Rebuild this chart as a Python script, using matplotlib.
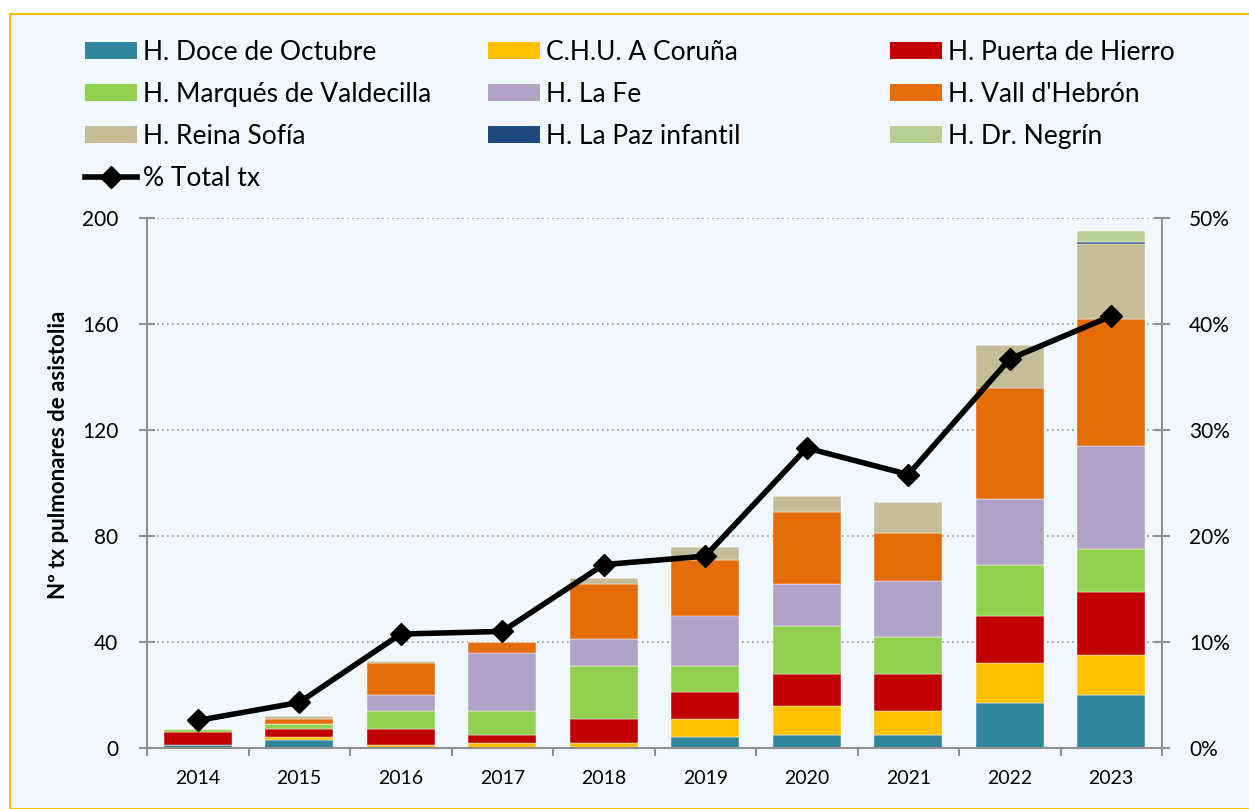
import numpy as np
import matplotlib
matplotlib.use("Agg")
import matplotlib.pyplot as plt
from matplotlib.patches import Rectangle, Patch
from matplotlib.lines import Line2D
from matplotlib.ticker import FuncFormatter

plt.rcParams['font.family'] = ['Lato', 'DejaVu Sans']

years = ['2014', '2015', '2016', '2017', '2018', '2019', '2020', '2021', '2022', '2023']

doce_octubre = [1, 3, 0, 0, 0, 4, 5, 5, 17, 20]
chu_coruna   = [0, 1, 1, 2, 2, 7, 11, 9, 15, 15]
puerta_hierro = [5, 3, 6, 3, 9, 10, 12, 14, 18, 24]
valdecilla   = [1, 2, 7, 9, 20, 10, 18, 14, 19, 16]
la_fe        = [0, 0, 6, 22, 10, 19, 16, 21, 25, 39]
vall_hebron  = [0, 2, 12, 4, 21, 21, 27, 18, 42, 48]
reina_sofia  = [0, 1, 1, 0, 2, 5, 6, 12, 16, 28]
la_paz_inf   = [0, 0, 0, 0, 0, 0, 0, 0, 0, 1]
dr_negrin    = [0, 0, 0, 0, 0, 0, 0, 0, 0, 4]

pct_total = [2.6, 4.3, 10.75, 11.0, 17.3, 18.1, 28.3, 25.8, 36.7, 40.75]

series = [
    ('H. Doce de Octubre', doce_octubre, '#31859C'),
    ('C.H.U. A Coruña', chu_coruna, '#FFC000'),
    ('H. Puerta de Hierro', puerta_hierro, '#C00000'),
    ('H. Marqués de Valdecilla', valdecilla, '#92D050'),
    ('H. La Fe', la_fe, '#B2A2C7'),
    ("H. Vall d'Hebrón", vall_hebron, '#E46C0A'),
    ('H. Reina Sofía', reina_sofia, '#C4BD97'),
    ('H. La Paz infantil', la_paz_inf, '#1F497D'),
    ('H. Dr. Negrín', dr_negrin, '#B9CF96'),
]

bg = '#F0F8FE'
W, H = 1249, 809
fig = plt.figure(figsize=(W / 100, H / 100), dpi=100, facecolor='white')
fig.patches.append(Rectangle((10 / W, 0), 1.0, (H - 14) / H, transform=fig.transFigure,
                             facecolor=bg, edgecolor='#FFC000', linewidth=1.5, zorder=-10))

ax = fig.add_axes([147 / W, 61 / H, 1015 / W, 530 / H])
ax.set_facecolor('none')
x = np.arange(len(years))
bottom = np.zeros(len(years))
handles = {}
for name, vals, col in series:
    v = np.array(vals, dtype=float)
    ax.bar(x, v, 0.67, bottom=bottom, color=col, edgecolor='white', linewidth=0.3, zorder=2)
    bottom += v
    handles[name] = Patch(facecolor=col, edgecolor='none')

ax.set_xlim(-0.5, len(years) - 0.5)
ax.set_ylim(0, 200)
ax.set_yticks(np.arange(0, 201, 40))
ax.yaxis.grid(True, linestyle=(0, (1, 2)), color='#999999', linewidth=1.2, zorder=0)
ax.set_xticks(x)
ax.set_xticklabels(years, fontsize=14)
ax.set_xticks(np.arange(-0.5, len(years), 1), minor=True)
ax.tick_params(axis='x', which='major', length=0, pad=16)
ax.tick_params(axis='x', which='minor', length=6, color='#909090', width=1.5, direction='out')
ax.tick_params(axis='y', labelsize=15, length=11, direction='inout', color='#909090', width=1.5, pad=15)
for s in ['top', 'right']:
    ax.spines[s].set_visible(False)
for s in ['left', 'bottom']:
    ax.spines[s].set_color('#909090')
    ax.spines[s].set_linewidth(1.5)
ax.set_ylabel('Nº tx pulmonares de asistolia', fontsize=16, fontweight='bold')
ax.yaxis.set_label_coords(-0.077, 0.553)

ax2 = ax.twinx()
ax2.set_ylim(0, 50)
ax2.set_yticks(np.arange(0, 51, 10))
ax2.yaxis.set_major_formatter(FuncFormatter(lambda v, p: f'{int(v)}%'))
ax2.tick_params(axis='y', labelsize=15, length=11, direction='inout', color='#909090', width=1.5, pad=14)
for s in ['top', 'left', 'bottom']:
    ax2.spines[s].set_visible(False)
ax2.spines['right'].set_color('#909090')
ax2.spines['right'].set_linewidth(1.5)
ax2.plot(x, pct_total, color='black', linewidth=4, marker='D', markersize=11, zorder=5)

# legend: three fixed-width columns like the original
columns = [
    (85, ['H. Doce de Octubre', 'H. Marqués de Valdecilla', 'H. Reina Sofía', None]),
    (488, ['C.H.U. A Coruña', 'H. La Fe', 'H. La Paz infantil']),
    (890, ['H. Puerta de Hierro', "H. Vall d'Hebrón", 'H. Dr. Negrín']),
]
for xpos, names in columns:
    leg_h, leg_l = [], []
    for n in names:
        if n is None:
            leg_h.append(Line2D([], [], color='black', linewidth=4, marker='D', markersize=11))
            leg_l.append('% Total tx')
        else:
            leg_h.append(handles[n])
            leg_l.append(n)
    fig.legend(leg_h, leg_l, loc='upper left', bbox_to_anchor=(xpos / W, 1 - 40 / H),
               frameon=False, fontsize=19, handlelength=1.97, handleheight=0.6,
               handletextpad=0.23, labelspacing=0.64, borderpad=0, borderaxespad=0)

fig.savefig('out.png', dpi=100, facecolor='white')
